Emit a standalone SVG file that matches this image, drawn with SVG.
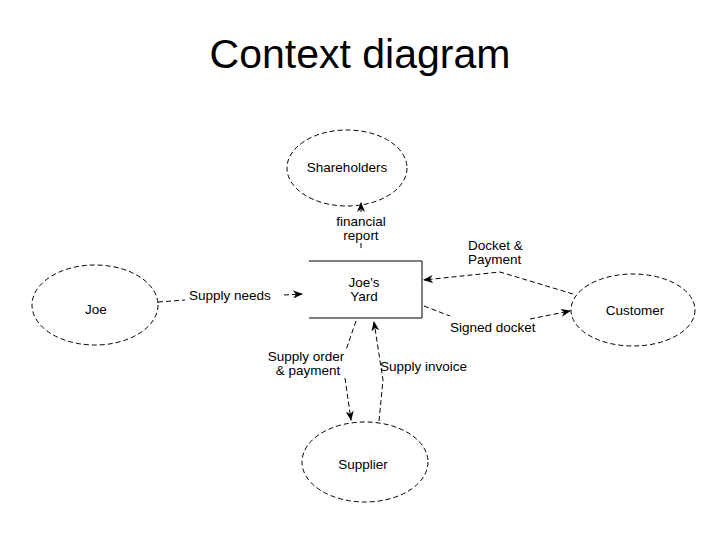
<svg xmlns="http://www.w3.org/2000/svg" width="720" height="540" viewBox="0 0 720 540">
<defs>
<style>
.e{fill:none;stroke:#000;stroke-width:1;stroke-dasharray:5 3}
.c{fill:none;stroke:#000;stroke-width:1;stroke-dasharray:5 3}
text{font-family:"Liberation Sans",Arial,sans-serif;font-size:13.5px;fill:#000}
.m{text-anchor:middle}
</style>
<marker id="a" markerWidth="10" markerHeight="8" refX="9" refY="4" orient="auto" markerUnits="userSpaceOnUse"><path d="M0,0 L10,4 L0,8 L3,4 Z" fill="#000"/></marker>
</defs>
<rect width="720" height="540" fill="#fff"/>
<text x="360" y="68" class="m" style="font-size:41px">Context diagram</text>
<g id="yard">
<path d="M309,261 H422 V318 H309" fill="none" stroke="#000"/>
<text x="364" y="287" class="m">Joe's</text><text x="364" y="301" class="m">Yard</text>
</g>
<g id="shareholders"><ellipse class="e" cx="347" cy="168" rx="60" ry="38"/><text x="347" y="172" class="m">Shareholders</text></g>
<g id="joe"><ellipse class="e" cx="95" cy="305" rx="63" ry="40"/><text x="96" y="314" class="m">Joe</text></g>
<g id="customer"><ellipse class="e" cx="633" cy="310" rx="62" ry="36"/><text x="635" y="315" class="m">Customer</text></g>
<g id="supplier"><ellipse class="e" cx="365" cy="462" rx="63" ry="40"/><text x="363" y="469" class="m">Supplier</text></g>
<g id="connectors">
<path class="c" d="M361,248 V242"/><path class="c" d="M361,212 V203" marker-end="url(#a)"/>
<text x="361" y="226" class="m">financial</text><text x="361" y="240" class="m">report</text>
<path class="c" d="M158,302 L185,300"/>
<path class="c" d="M284,295 L302,294" marker-end="url(#a)"/>
<text x="189" y="300">Supply needs</text>
<path class="c" d="M573,294 L500,272 L424,280" marker-end="url(#a)"/>
<text x="468" y="250">Docket &amp;</text><text x="468" y="264">Payment</text>
<path class="c" d="M424,306 L450,316"/>
<path class="c" d="M530,319 L570,311" marker-end="url(#a)"/>
<text x="450" y="332">Signed docket</text>
<path class="c" d="M356,321 L346,350"/>
<path class="c" d="M345,378 L351,420" marker-end="url(#a)"/>
<text x="306" y="361" class="m">Supply order</text><text x="308" y="375" class="m">&amp; payment</text>
<path class="c" d="M379,421 L383,380 L374,322" marker-end="url(#a)"/>
<text x="380" y="371">Supply invoice</text>
</g>
</svg>
